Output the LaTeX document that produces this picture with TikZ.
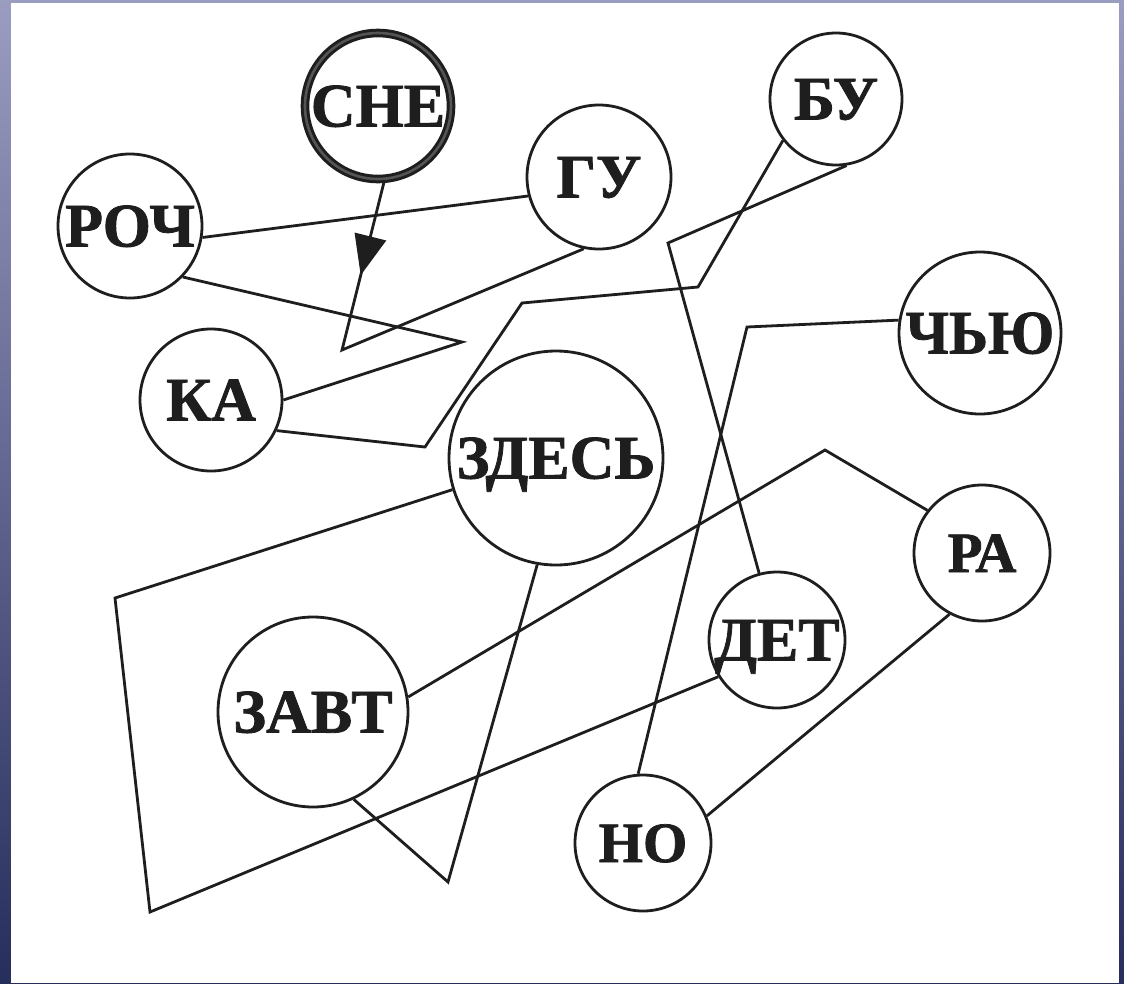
\documentclass[tikz,border=0pt]{standalone}
\usepackage{fontspec}
\setmainfont{Liberation Serif}
\newfontfamily\wordfont{Liberation Serif}[BoldFeatures={FakeBold=1.3}]
\usetikzlibrary{arrows.meta,decorations.markings}
\definecolor{ink}{HTML}{1E1E1E}
\definecolor{bgtop}{HTML}{9A9CC0}
\definecolor{bgmid}{HTML}{4A62B2}
\definecolor{bgbot}{HTML}{262E5C}
\definecolor{ringcore}{HTML}{555555}
\tikzset{
  word/.style={circle, draw=ink, line width=2.8pt, inner sep=0pt, fill=white,
    font=\wordfont\bfseries\fontsize{62}{62}\selectfont, text=ink, text height=41pt, text depth=0pt},
  smallword/.style={font=\wordfont\bfseries\fontsize{57}{57}\selectfont, text height=38pt},
  startword/.style={line width=3pt, double=ringcore, double distance=2.6pt},
  link/.style={draw=ink, line width=2.8pt, line join=miter},
  midarrow/.style={postaction={decorate, decoration={markings,
    mark=at position #1 with {\arrow{Triangle[length=40pt,width=32pt]}}}}},
}
\begin{document}
\begin{tikzpicture}[x=1pt,y=-1pt]
\useasboundingbox (0,0) rectangle (1124,983);
\shade[top color=bgtop, middle color=bgmid, bottom color=bgbot] (0,0) rectangle (1124,983);
\fill[white] (11,2.5) rectangle (1119,983);

% nodes
\node[word, minimum size=144pt] (roch) at (130,226) {\makebox[0pt]{РОЧ}};
\node[word, startword, minimum size=146pt] (sne) at (378,106) {\makebox[0pt]{СНЕ}};
\node[word, minimum size=144pt] (gu) at (599,177) {\makebox[0pt]{ГУ}};
\node[word, minimum size=132pt] (bu) at (836,99) {\makebox[0pt]{БУ}};
\node[word, minimum size=162pt] (chyu) at (980,333) {\makebox[0pt]{\scalebox{0.95}[1]{ЧЬЮ}}};
\node[word, minimum size=142pt] (ka) at (211,400) {\makebox[0pt]{КА}};
\node[word, minimum size=214pt] (zdes) at (556,458) {\makebox[0pt]{ЗДЕСЬ}};
\node[word, minimum size=190pt] (zavt) at (313,712) {\makebox[0pt]{ЗАВТ}};
\node[word, smallword, minimum size=136pt] (ra) at (982,553) {\makebox[0pt]{РА}};
\node[word, minimum size=136pt] (det) at (777,640) {\makebox[0pt]{ДЕТ}};
\node[word, smallword, minimum size=136pt] (no) at (643,843) {\makebox[0pt]{НО}};

% bend points
\coordinate (p1) at (342,350);
\coordinate (p2) at (462,342);
\coordinate (p3) at (425,447);
\coordinate (p4) at (522,303);
\coordinate (p5) at (698,287);
\coordinate (p6) at (668,243);
\coordinate (p7) at (747,327);
\coordinate (p8) at (115,598);
\coordinate (p9) at (150,912);
\coordinate (p10) at (448,882);
\coordinate (p11) at (825,450);

% connectors
\draw[link] (roch.-9) -- (gu.-165);
\draw[link, midarrow=98pt] (sne.-85) -- (p1) -- (gu.-102);
\draw[link] (roch.-44) -- (p2) -- (ka.0);
\draw[link] (ka.-25) -- (p3) -- (p4) -- (p5) -- (bu.-142);
\draw[link] (bu.-81) -- (p6) -- (det.105);
\draw[link] (chyu.171) -- (p7) -- (no.94);
\draw[link] (zdes.-163) -- (p8) -- (p9) -- (det.-148);
\draw[link] (zavt.-65) -- (p10) -- (zdes.-100);
\draw[link] (zavt.9) -- (p11) -- (ra.142);
\draw[link] (ra.-118) -- (no.23);
\end{tikzpicture}
\end{document}
